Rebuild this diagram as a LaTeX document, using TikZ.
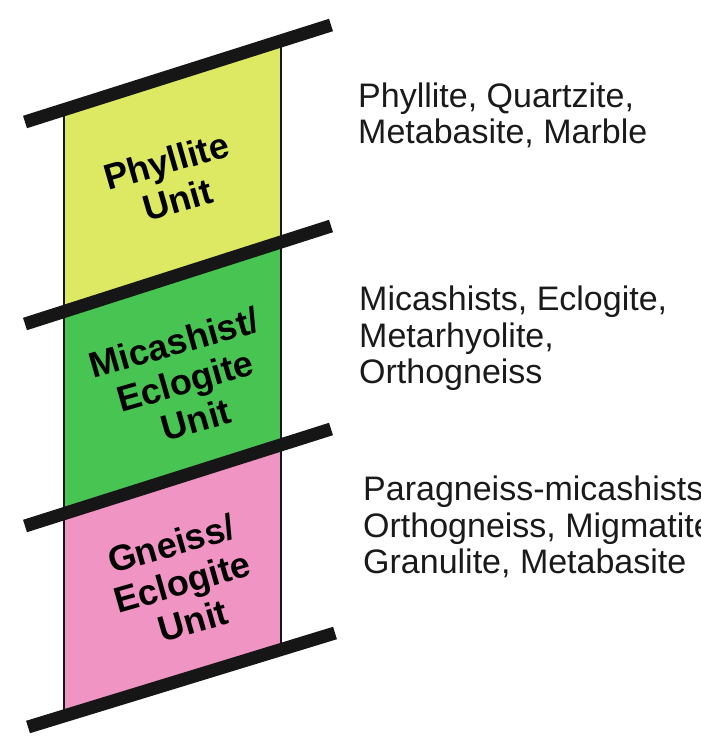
\documentclass[tikz,border=0pt]{standalone}
\usepackage{fontspec}
\setmainfont{Liberation Sans}
\definecolor{unityellow}{RGB}{221,233,98}
\definecolor{unitgreen}{RGB}{72,196,82}
\definecolor{unitpink}{RGB}{240,148,196}
\definecolor{barblack}{RGB}{22,22,22}
\definecolor{txt}{RGB}{26,26,26}
\begin{document}
\begin{tikzpicture}[x=1pt,y=-1pt,
  barline/.style={draw=barblack,line width=13pt,line cap=butt},
  edgeline/.style={draw=barblack,line width=1.2pt},
  unitlabel/.style={font=\bfseries\fontsize{36}{40}\selectfont,align=center,rotate=16,inner sep=0pt,text=black},
  desc/.style={font=\fontsize{34}{37}\selectfont,anchor=base west,inner sep=0pt,text=txt}]
\useasboundingbox (0,0) rectangle (701,737);
\clip (0,0) rectangle (701,737);
% unit fills
\fill[unityellow] (64,109.6) -- (281,40.9) -- (281,242) -- (64,311.5) -- cycle;
\fill[unitgreen] (64,311.5) -- (281,242) -- (281,444.8) -- (64,513.6) -- cycle;
\fill[unitpink] (64,513.6) -- (281,444.8) -- (281,649.5) -- (64,716) -- cycle;
% column edges
\draw[edgeline] (64,109.6) -- (64,716);
\draw[edgeline] (281,40.9) -- (281,649.5);
% boundary bars
\coordinate (b1a) at (25,122); \coordinate (b1b) at (331,25);
\coordinate (b2a) at (25,324); \coordinate (b2b) at (331,226);
\coordinate (b3a) at (25,526); \coordinate (b3b) at (331,429);
\coordinate (b4a) at (28,727); \coordinate (b4b) at (335,633);
\draw[barline] (b1a) -- (b1b);
\draw[barline] (b2a) -- (b2b);
\draw[barline] (b3a) -- (b3b);
\draw[barline] (b4a) -- (b4b);
% unit labels
\node[unitlabel] (phy) at (172,180) {Phyllite\\Unit};
\node[unitlabel] (mic) at (185,381) {Micashist/\\Eclogite\\Unit};
\node[unitlabel] (gne) at (182,582) {Gneiss/\\Eclogite\\Unit};
% descriptions
\node[desc] (d1a) at (358,107) {Phyllite, Quartzite,};
\node[desc] (d1b) at (358,143) {Metabasite, Marble};
\node[desc] (d2a) at (359,310) {Micashists, Eclogite,};
\node[desc] (d2b) at (359,347) {Metarhyolite,};
\node[desc] (d2c) at (359,383) {Orthogneiss};
\node[desc] (d3a) at (363,500) {Paragneiss-micashists,};
\node[desc] (d3b) at (363,537) {Orthogneiss, Migmatite,};
\node[desc] (d3c) at (363,573) {Granulite, Metabasite};
\end{tikzpicture}
\end{document}
